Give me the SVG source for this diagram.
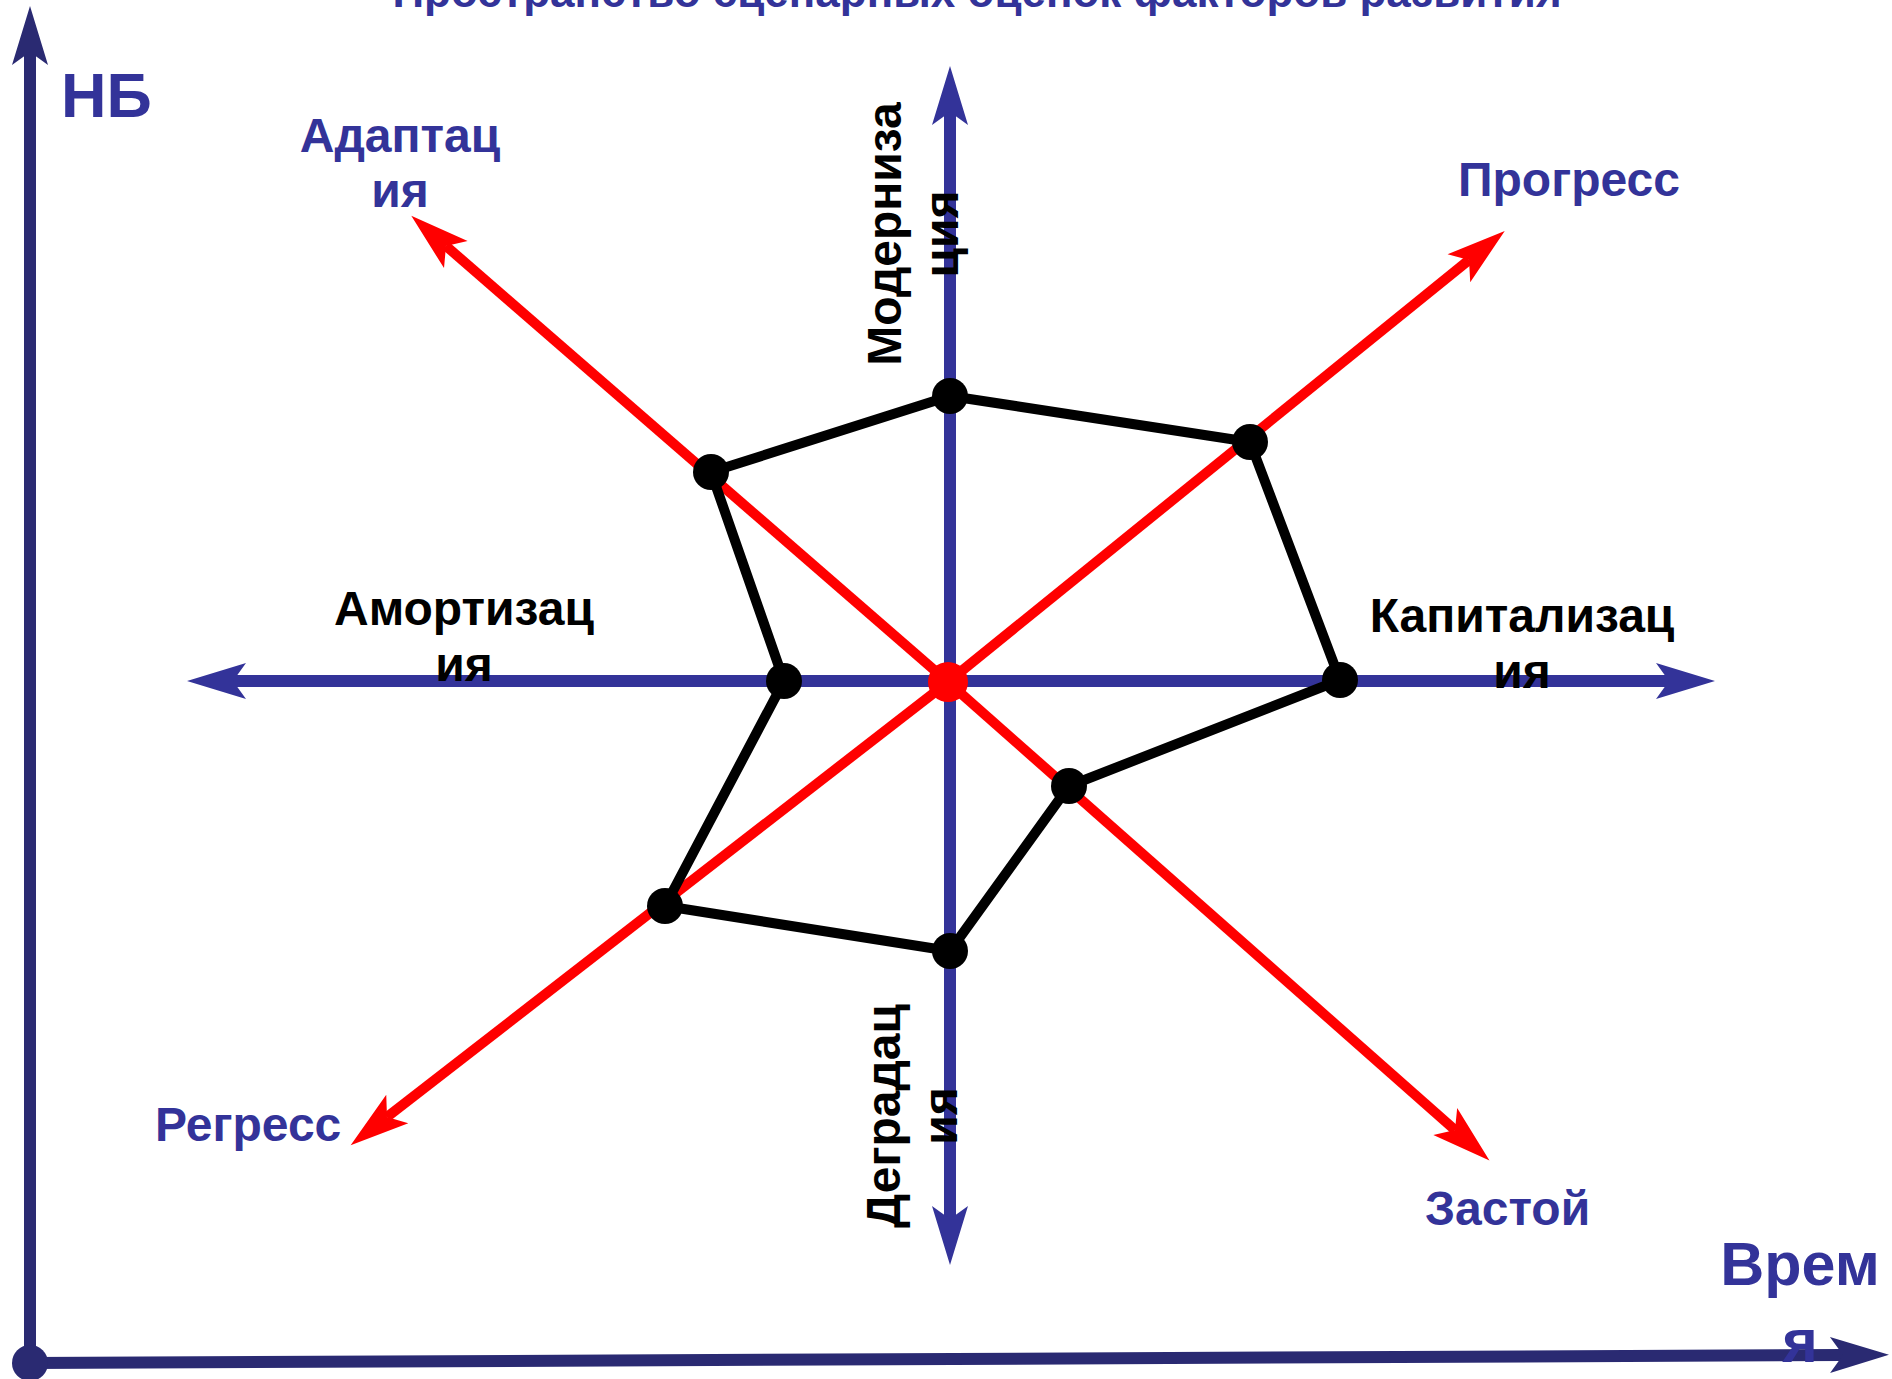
<svg xmlns="http://www.w3.org/2000/svg" width="1892" height="1379" viewBox="0 0 1892 1379">
<style>
.t{font-family:"Liberation Sans",Arial,sans-serif;font-weight:bold;}
.b{fill:#333399;}
.k{fill:#000;}
.ax{stroke:#2a2a72;stroke-width:12;fill:none;}
.ia{stroke:#333399;stroke-width:12;fill:none;}
.rd{stroke:#ff0000;stroke-width:10;fill:none;}
.pl{stroke:#000;stroke-width:10;fill:none;stroke-linejoin:round;}
.pt{fill:#000;}
</style>
<defs>
<marker id="mNavy" markerUnits="userSpaceOnUse" markerWidth="80" markerHeight="50" viewBox="-20 -25 80 50" refX="0" refY="0" orient="auto-start-reverse" overflow="visible">
<path d="M46,0 L-13,-18 L0,0 L-13,18 Z" fill="#2a2a72"/>
</marker>
<marker id="mBlue" markerUnits="userSpaceOnUse" markerWidth="80" markerHeight="50" viewBox="-20 -25 80 50" refX="0" refY="0" orient="auto-start-reverse" overflow="visible">
<path d="M46,0 L-13,-18 L0,0 L-13,18 Z" fill="#333399"/>
</marker>
<marker id="mRed" markerUnits="userSpaceOnUse" markerWidth="80" markerHeight="50" viewBox="-20 -25 80 50" refX="0" refY="0" orient="auto" overflow="visible">
<path d="M46,0 L-13,-18 L0,0 L-13,18 Z" fill="#ff0000"/>
</marker>
</defs>
<rect width="1892" height="1379" fill="#fff"/>
<g id="connectors">
<line class="ax" x1="30" y1="1363" x2="30" y2="52" marker-end="url(#mNavy)"/>
<line class="ax" x1="30" y1="1363" x2="1843" y2="1355" marker-end="url(#mNavy)"/>
<line class="ia" x1="950" y1="1219" x2="950" y2="112" marker-start="url(#mBlue)" marker-end="url(#mBlue)"/>
<line class="ia" x1="233" y1="681" x2="1669" y2="681" marker-start="url(#mBlue)" marker-end="url(#mBlue)"/>
<line class="rd" x1="948" y1="682" x2="1469" y2="260" marker-end="url(#mRed)"/>
<line class="rd" x1="948" y1="682" x2="387" y2="1117" marker-end="url(#mRed)"/>
<line class="rd" x1="948" y1="682" x2="446" y2="246" marker-end="url(#mRed)"/>
<line class="rd" x1="948" y1="682" x2="1455" y2="1130" marker-end="url(#mRed)"/>
<polygon class="pl" points="950,396 1250,442 1340,680 1069,786 950,951 665,906 784,681 711,472"/>
</g>
<g id="origin"><circle cx="30" cy="1363" r="18" fill="#2a2a72"/></g>
<g id="center"><circle cx="948" cy="682" r="20" fill="#ff0000"/></g>
<g id="points">
<circle class="pt" cx="950" cy="396" r="18"/>
<circle class="pt" cx="1250" cy="442" r="18"/>
<circle class="pt" cx="1340" cy="680" r="18"/>
<circle class="pt" cx="1069" cy="786" r="18"/>
<circle class="pt" cx="950" cy="951" r="18"/>
<circle class="pt" cx="665" cy="906" r="18"/>
<circle class="pt" cx="784" cy="681" r="18"/>
<circle class="pt" cx="711" cy="472" r="18"/>
</g>
<g id="title"><text class="t b" x="977" y="7" font-size="44" text-anchor="middle">Пространство сценарных оценок факторов развития</text></g>
<g id="nb"><text class="t b" x="61" y="117" font-size="63">НБ</text></g>
<g id="time"><text class="t b" font-size="61" text-anchor="middle"><tspan x="1800" y="1285">Врем</tspan><tspan x="1800" y="1362">я</tspan></text></g>
<g id="adaptation"><text class="t b" font-size="48" text-anchor="middle"><tspan x="400" y="152">Адаптац</tspan><tspan x="400" y="207">ия</tspan></text></g>
<g id="progress"><text class="t b" x="1458" y="196" font-size="48">Прогресс</text></g>
<g id="regress"><text class="t b" x="155" y="1141" font-size="48">Регресс</text></g>
<g id="stagnation"><text class="t b" x="1425" y="1225" font-size="48">Застой</text></g>
<g id="modernization"><text class="t k" font-size="48" text-anchor="middle" transform="translate(901,234) rotate(-90)"><tspan x="0" y="0">Модерниза</tspan><tspan x="0" y="57">ция</tspan></text></g>
<g id="degradation"><text class="t k" font-size="48" text-anchor="middle" transform="translate(900,1116) rotate(-90)"><tspan x="0" y="0">Деградац</tspan><tspan x="0" y="57">ия</tspan></text></g>
<g id="amortization"><text class="t k" font-size="48" text-anchor="middle"><tspan x="464" y="625">Амортизац</tspan><tspan x="464" y="681">ия</tspan></text></g>
<g id="capitalization"><text class="t k" font-size="48" text-anchor="middle"><tspan x="1522" y="632">Капитализац</tspan><tspan x="1522" y="688">ия</tspan></text></g>
</svg>
